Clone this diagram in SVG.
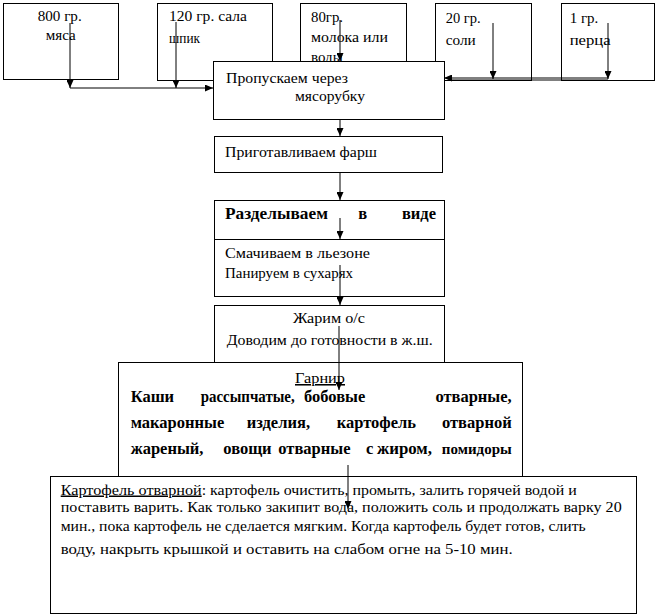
<svg xmlns="http://www.w3.org/2000/svg" width="659" height="616" viewBox="0 0 659 616">
<style>
.b{fill:#fff;stroke:#000;stroke-width:1}
.t{font-family:"Liberation Serif","Times New Roman","DejaVu Serif",serif;font-size:15px;fill:#000}
.m{font-family:"Liberation Serif","Times New Roman","DejaVu Serif",serif;font-size:15.5px;fill:#000}
.k{font-family:"Liberation Serif","Times New Roman","DejaVu Serif",serif;font-size:16.5px;font-weight:bold;fill:#000}
.g{font-family:"Liberation Serif","Times New Roman","DejaVu Serif",serif;font-size:16.5px;font-weight:bold;fill:#000}
.e{text-anchor:end}
.c{fill:none;stroke:#000;stroke-width:1}
.u{text-decoration:underline}
</style>
<defs>
<marker id="ah" markerUnits="userSpaceOnUse" markerWidth="8" markerHeight="7" refX="8" refY="3.5" orient="auto">
<path d="M0,0 L8,3.5 L0,7 z" fill="#000"/>
</marker>
</defs>
<rect width="659" height="616" fill="#fff"/>
<g id="n1"><rect class="b" x="3.5" y="3.5" width="115" height="76"/>
<text class="t" x="37.7" y="21" textLength="44" lengthAdjust="spacingAndGlyphs">800 гр.</text>
<text class="t" x="45.7" y="40" textLength="30" lengthAdjust="spacingAndGlyphs">мяса</text></g>
<g id="n2"><rect class="b" x="157.5" y="3.5" width="115" height="77"/>
<text class="t" x="169" y="21" textLength="78" lengthAdjust="spacingAndGlyphs">120 гр. сала</text>
<text class="t" x="169" y="43" textLength="31" lengthAdjust="spacingAndGlyphs">шпик</text></g>
<g id="n3"><rect class="b" x="300.5" y="3.5" width="106" height="77"/>
<text class="t" x="311" y="22" textLength="32" lengthAdjust="spacingAndGlyphs">80гр.</text>
<text class="t" x="311" y="41.5" textLength="77" lengthAdjust="spacingAndGlyphs">молока или</text>
<text class="t" x="311" y="62">воды</text></g>
<g id="n4"><rect class="b" x="435.5" y="3.5" width="96" height="77"/>
<text class="t" x="445.7" y="22.5" textLength="35" lengthAdjust="spacingAndGlyphs">20 гр.</text>
<text class="t" x="445.7" y="44.5" textLength="30" lengthAdjust="spacingAndGlyphs">соли</text></g>
<g id="n5"><rect class="b" x="561.5" y="3.5" width="93" height="77"/>
<text class="t" x="569.7" y="22.5" textLength="28.6" lengthAdjust="spacingAndGlyphs">1 гр.</text>
<text class="t" x="569.7" y="44.5" textLength="41" lengthAdjust="spacingAndGlyphs">перца</text></g>
<g id="n6"><rect class="b" x="213.5" y="61.5" width="231" height="58"/>
<text class="m" x="226" y="83" textLength="122" lengthAdjust="spacingAndGlyphs">Пропускаем через</text>
<text class="m" x="295" y="101" textLength="70" lengthAdjust="spacingAndGlyphs">мясорубку</text></g>
<g id="n7"><rect class="b" x="214.5" y="136.5" width="228" height="36"/>
<text class="m" x="225" y="156.5" textLength="152" lengthAdjust="spacingAndGlyphs">Приготавливаем фарш</text></g>
<g id="n8"><rect class="b" x="214.5" y="200.5" width="230" height="39"/>
<text class="k" x="225" y="219.3" textLength="103" lengthAdjust="spacingAndGlyphs">Разделываем</text>
<text class="k" x="358.3" y="219.3">в</text>
<text class="k e" x="436" y="219.3">виде</text></g>
<g id="n9"><rect class="b" x="214.5" y="239.5" width="230" height="57"/>
<text class="m" x="225" y="258.3" textLength="145" lengthAdjust="spacingAndGlyphs">Смачиваем в льезоне</text>
<text class="m" x="225" y="278.3" textLength="128" lengthAdjust="spacingAndGlyphs">Панируем в сухарях</text></g>
<g id="n10"><rect class="b" x="214.5" y="305.5" width="230" height="57"/>
<text class="m" x="293" y="323.3" textLength="72" lengthAdjust="spacingAndGlyphs">Жарим о/с</text>
<text class="m" x="226.7" y="345" textLength="206" lengthAdjust="spacingAndGlyphs">Доводим до готовности в ж.ш.</text></g>
<g id="n11"><rect class="b" x="118.5" y="362.5" width="404" height="130"/>
<text class="m u" x="295" y="383" textLength="50" lengthAdjust="spacingAndGlyphs">Гарнир</text>
<text class="g" x="130.7" y="401.5">Каши</text>
<text class="g" x="200.7" y="401.5" textLength="94" lengthAdjust="spacingAndGlyphs">рассыпчатые,</text>
<text class="g" x="304" y="401.5">бобовые</text>
<text class="g e" x="511.7" y="401.5">отварные,</text>
<text class="g" x="130.7" y="427.5">макаронные</text>
<text class="g" x="246.7" y="427.5">изделия,</text>
<text class="g" x="336.7" y="427.5">картофель</text>
<text class="g e" x="511.7" y="427.5">отварной</text>
<text class="g" x="130.7" y="453.5">жареный,</text>
<text class="g" x="223.3" y="453.5">овощи</text>
<text class="g" x="278.3" y="453.5">отварные</text>
<text class="g" x="366" y="453.5">с</text>
<text class="g" x="377" y="453.5" textLength="55" lengthAdjust="spacingAndGlyphs">жиром,</text>
<text class="g e" x="511.7" y="453.5" style="font-size:15px">помидоры</text></g>
<g id="n12"><rect class="b" x="50.5" y="476.5" width="586" height="137"/>
<text class="t u" x="60.7" y="494.5" textLength="141" lengthAdjust="spacingAndGlyphs">Картофель отварной</text>
<text class="t" x="201.7" y="494.5" textLength="375" lengthAdjust="spacingAndGlyphs">: картофель очистить, промыть, залить горячей водой и</text>
<text class="t" x="60.7" y="512" textLength="561" lengthAdjust="spacingAndGlyphs">поставить варить. Как только закипит вода, положить соль и продолжать варку 20</text>
<text class="t" x="60.7" y="531" textLength="525" lengthAdjust="spacingAndGlyphs">мин., пока картофель не сделается мягким. Когда картофель будет готов, слить</text>
<text class="t" x="60.7" y="554" textLength="452" lengthAdjust="spacingAndGlyphs">воду, накрыть крышкой и оставить на слабом огне на 5-10 мин.</text></g>
<g id="connectors">
<path class="c" d="M70,23 V88" marker-end="url(#ah)"/>
<path class="c" d="M176,22 V88" marker-end="url(#ah)"/>
<path class="c" d="M70,88 H213" marker-end="url(#ah)"/>
<path class="c" d="M340,20 V61" marker-end="url(#ah)"/>
<path class="c" d="M493,23 V79" marker-end="url(#ah)"/>
<path class="c" d="M608,23 V79" marker-end="url(#ah)"/>
<path class="c" d="M608,78 H444" marker-end="url(#ah)"/>
<path class="c" d="M608,80 H452"/>
<path class="c" d="M340,119 V136" marker-end="url(#ah)"/>
<path class="c" d="M340,173 V200" marker-end="url(#ah)"/>
<path class="c" d="M340,218 V239" marker-end="url(#ah)"/>
<path class="c" d="M340,265 V305" marker-end="url(#ah)"/>
<path class="c" d="M339,326 V390" marker-end="url(#ah)"/>
<path class="c" d="M348,465 V509" marker-end="url(#ah)"/>
</g>
</svg>
